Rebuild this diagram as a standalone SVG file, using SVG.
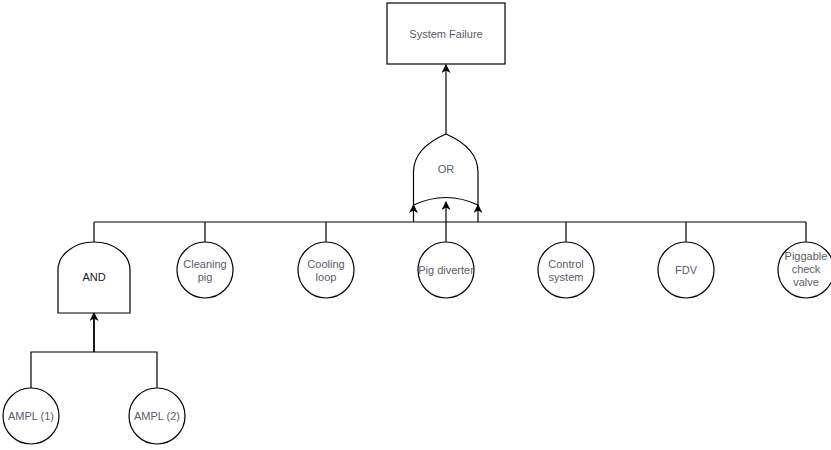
<svg xmlns="http://www.w3.org/2000/svg" width="831" height="450" viewBox="0 0 831 450">
  <style>
    .shape { fill: #ffffff; stroke: #000000; stroke-width: 1.2; }
    .edge { fill: none; stroke: #000000; stroke-width: 1.2; }
    .lbl { font-family: "Liberation Sans", Arial, sans-serif; font-size: 11px; fill: #5b5b68; text-anchor: middle; dominant-baseline: central; }
    .dark { fill: #1a1a1a; }
  </style>
  <defs>
    <marker id="arrow" viewBox="0 0 10 10" refX="9" refY="5" markerWidth="10" markerHeight="9" markerUnits="userSpaceOnUse" orient="auto">
      <path d="M0,0 L10,5 L0,10 L3,5 Z" fill="#000000"/>
    </marker>
  </defs>

  <!-- connectors -->
  <g id="connectors">
    <!-- OR gate to top event -->
    <path class="edge" d="M446,134 L446,65" marker-end="url(#arrow)"/>
    <!-- main bus under OR gate -->
    <path class="edge" d="M94,222 L806,222"/>
    <path class="edge" d="M94,222 L94,242"/>
    <path class="edge" d="M205,222 L205,242"/>
    <path class="edge" d="M326,222 L326,242"/>
    <path class="edge" d="M446,222 L446,242"/>
    <path class="edge" d="M566,222 L566,242"/>
    <path class="edge" d="M686,222 L686,242"/>
    <path class="edge" d="M806,222 L806,242"/>
    <!-- inputs into OR gate -->
    <path class="edge" d="M413.5,222 L413.5,205" marker-end="url(#arrow)"/>
    <path class="edge" d="M446,222 L446,202" marker-end="url(#arrow)"/>
    <path class="edge" d="M478,222 L478,205" marker-end="url(#arrow)"/>
    <!-- lower bus into AND gate -->
    <path class="edge" d="M31,388 L31,352 L157,352 L157,388"/>
    <path class="edge" d="M94,352 L94,313" style="stroke-width:1.8" marker-end="url(#arrow)"/>
  </g>

  <!-- top event -->
  <g id="system-failure">
    <rect class="shape" x="387" y="3" width="118" height="61"/>
    <text class="lbl" x="446" y="34">System Failure</text>
  </g>

  <!-- OR gate -->
  <g id="or-gate">
    <path class="shape" d="M413.5,205 L413.5,172 Q413.5,148 446,134 Q478,148 478,172 L478,205 Q446,190 413.5,205 Z"/>
    <text class="lbl" x="446" y="169">OR</text>
  </g>

  <!-- AND gate -->
  <g id="and-gate">
    <path class="shape" d="M58,313 L58,270 A36,28 0 0 1 130,270 L130,313 Z"/>
    <text class="lbl dark" x="94" y="277">AND</text>
  </g>

  <!-- basic events -->
  <g id="cleaning-pig">
    <circle class="shape" cx="205" cy="270" r="28"/>
    <text class="lbl" x="205" y="264">Cleaning</text>
    <text class="lbl" x="205" y="277">pig</text>
  </g>
  <g id="cooling-loop">
    <circle class="shape" cx="326" cy="270" r="28"/>
    <text class="lbl" x="326" y="264">Cooling</text>
    <text class="lbl" x="326" y="277">loop</text>
  </g>
  <g id="pig-diverter">
    <circle class="shape" cx="446" cy="270" r="28"/>
    <text class="lbl" x="446" y="270">Pig diverter</text>
  </g>
  <g id="control-system">
    <circle class="shape" cx="566" cy="270" r="28"/>
    <text class="lbl" x="566" y="264">Control</text>
    <text class="lbl" x="566" y="277">system</text>
  </g>
  <g id="fdv">
    <circle class="shape" cx="686" cy="270" r="28"/>
    <text class="lbl" x="686" y="270">FDV</text>
  </g>
  <g id="piggable-check-valve">
    <circle class="shape" cx="806" cy="270" r="28"/>
    <text class="lbl" x="806" y="256">Piggable</text>
    <text class="lbl" x="806" y="269">check</text>
    <text class="lbl" x="806" y="282">valve</text>
  </g>
  <g id="ampl-1">
    <circle class="shape" cx="31" cy="416" r="28"/>
    <text class="lbl" x="31" y="416">AMPL (1)</text>
  </g>
  <g id="ampl-2">
    <circle class="shape" cx="157" cy="416" r="28"/>
    <text class="lbl" x="157" y="416">AMPL (2)</text>
  </g>
</svg>
